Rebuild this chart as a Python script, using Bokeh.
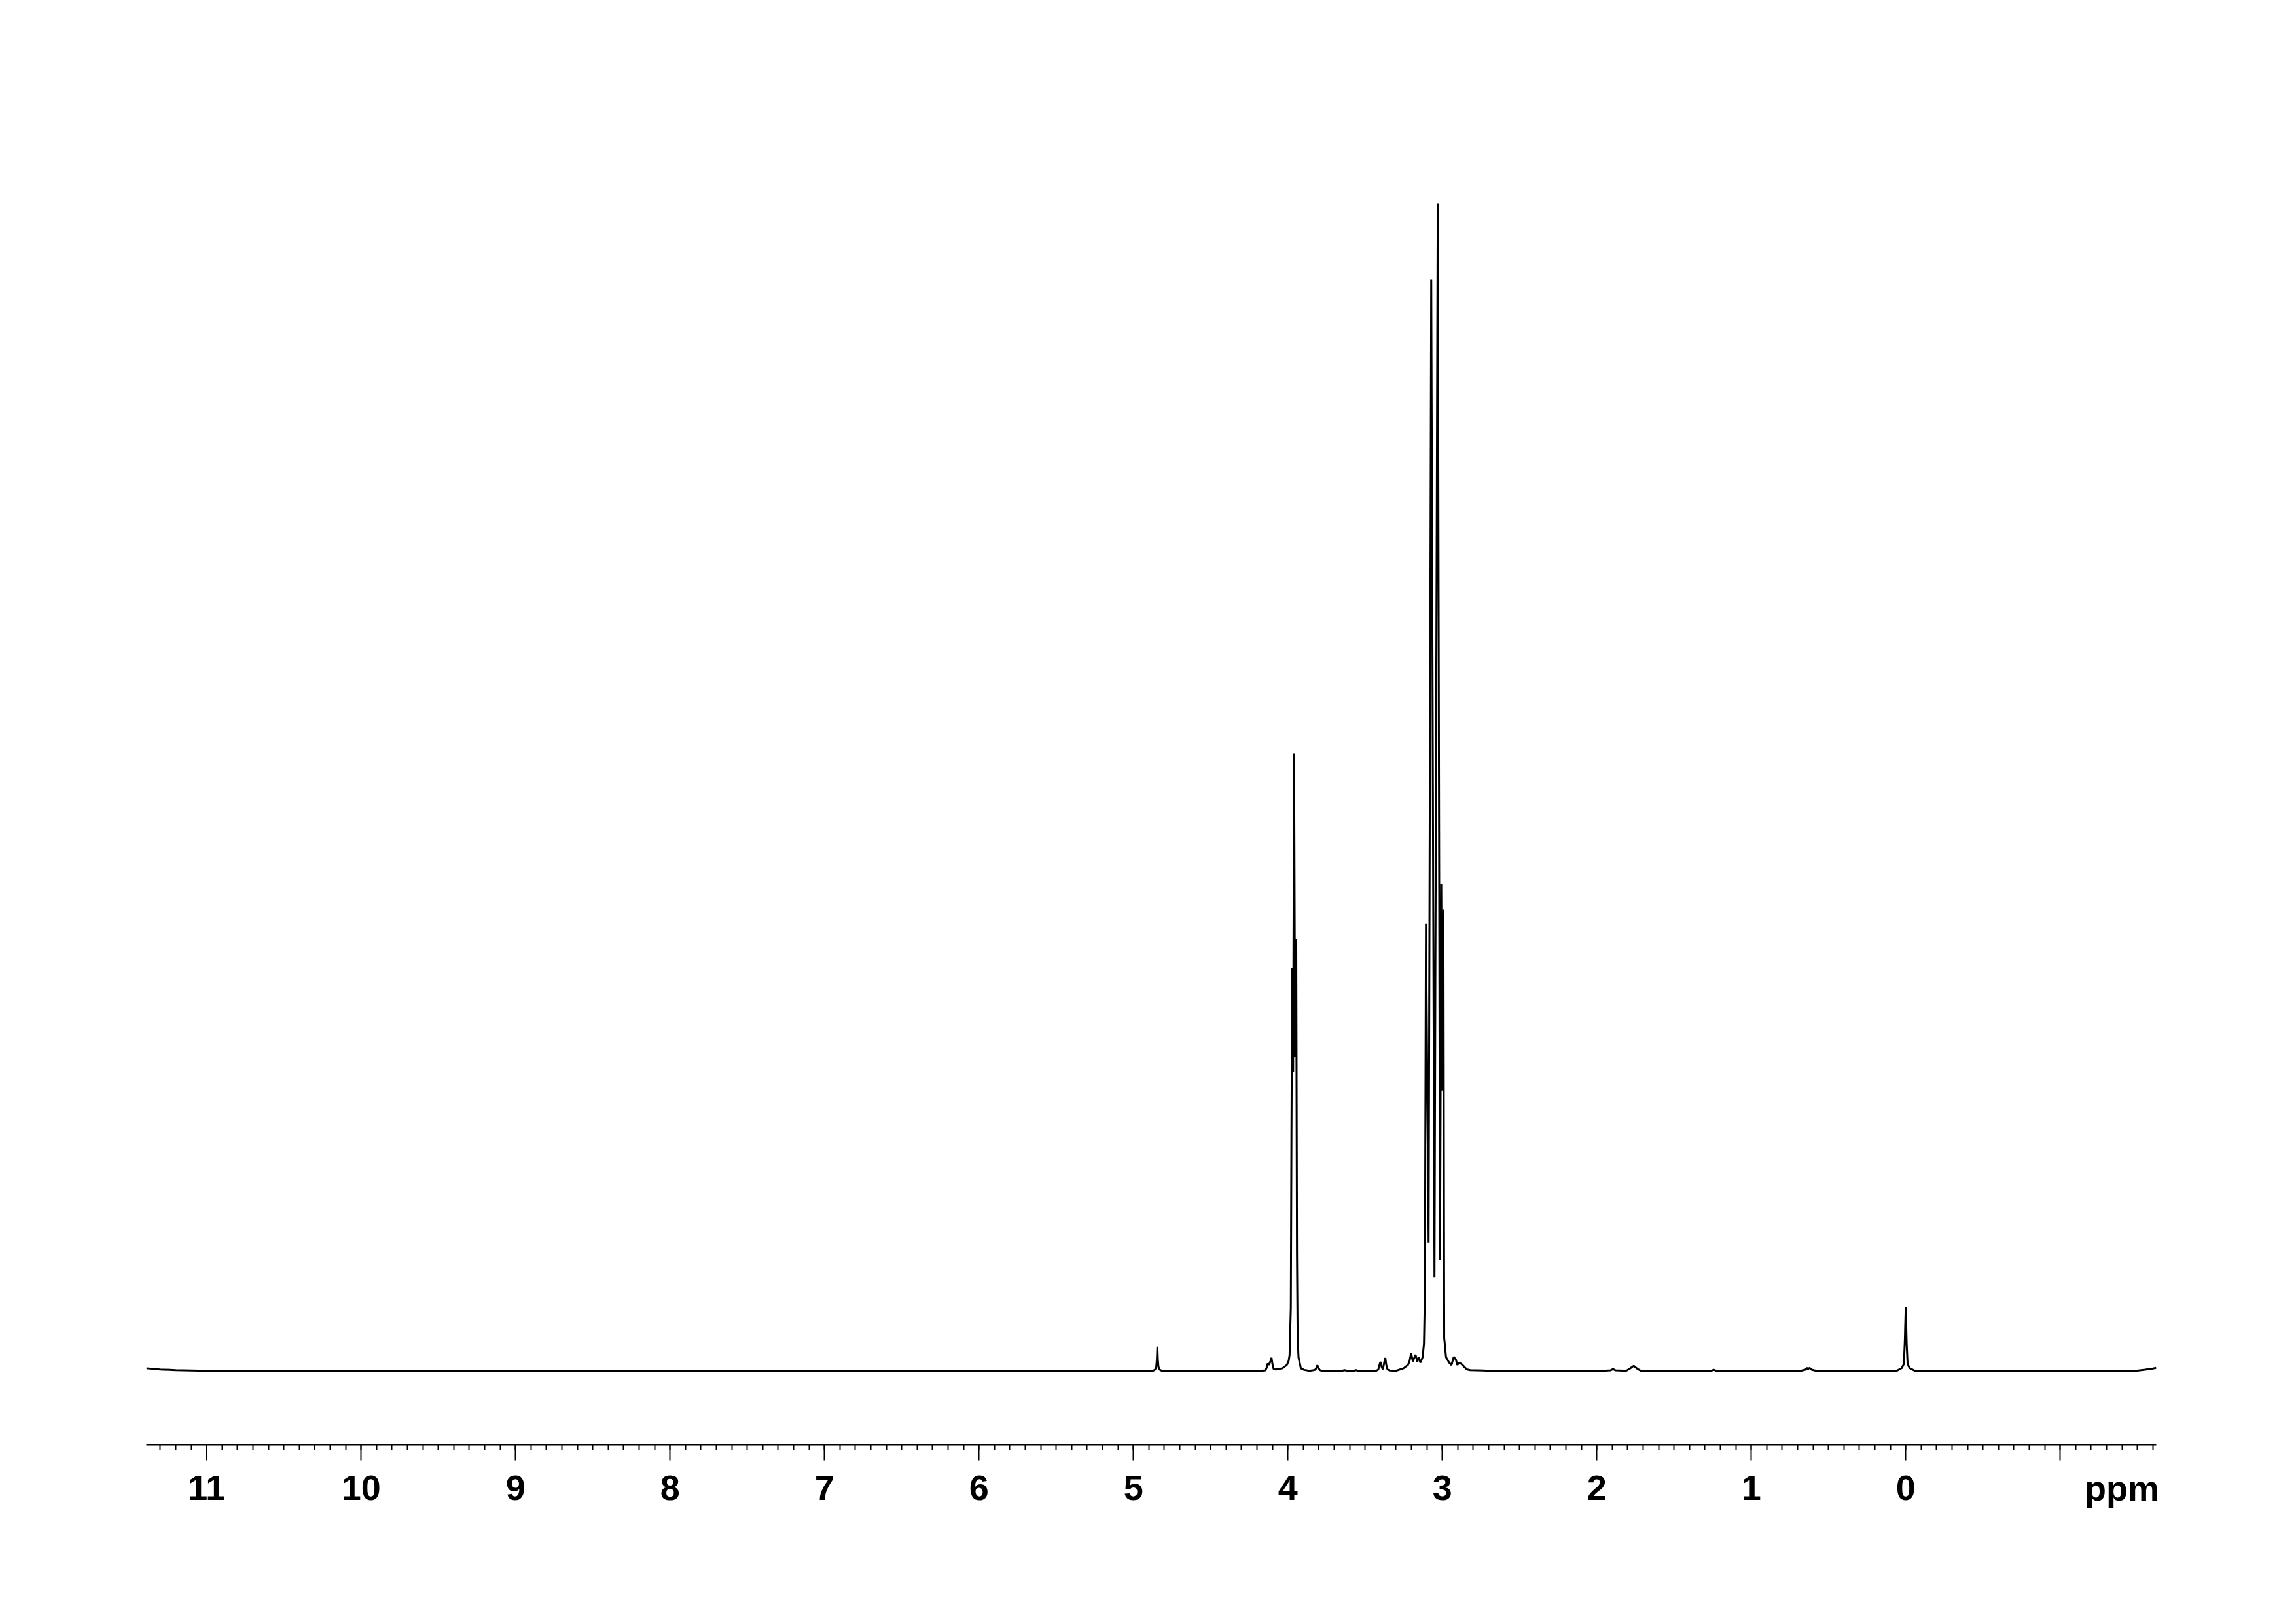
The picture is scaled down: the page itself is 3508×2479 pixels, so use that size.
from bokeh.plotting import figure
from bokeh.models import Range1d, FixedTicker, LinearAxis
from bokeh.embed import file_html
from bokeh.resources import INLINE

# 1H NMR spectrum: chemical shift (ppm) and intensity (% of tallest peak)
ppm = [
    11.39, 11.30, 11.20, 11.05, 10.80, 8.00, 6.00, 4.90,
    4.875, 4.860, 4.852, 4.848, 4.845, 4.842, 4.838, 4.830, 4.815,
    4.170, 4.145, 4.136, 4.130, 4.124, 4.113, 4.106, 4.099, 4.092, 4.078,
    4.035, 4.007, 3.995, 3.989, 3.981, 3.977, 3.972, 3.966, 3.960, 3.953,
    3.946, 3.941, 3.937, 3.931, 3.916, 3.894, 3.860,
    3.840, 3.822, 3.814, 3.809, 3.803, 3.795, 3.780,
    3.650, 3.633, 3.615, 3.575, 3.559, 3.545,
    3.430, 3.415, 3.405, 3.400, 3.393, 3.385, 3.375, 3.369, 3.363, 3.355, 3.340,
    3.301, 3.251, 3.237, 3.223, 3.213, 3.202, 3.191, 3.174, 3.162, 3.153,
    3.142, 3.128, 3.119, 3.113, 3.106, 3.089, 3.072, 3.051, 3.030, 3.015,
    3.007, 3.000, 2.993, 2.988, 2.976, 2.955, 2.941, 2.926, 2.912, 2.903,
    2.891, 2.877, 2.856, 2.842, 2.820, 2.736, 2.700,
    1.960, 1.910, 1.895, 1.880, 1.810, 1.785, 1.761, 1.740, 1.715,
    1.260, 1.243, 1.225,
    0.680, 0.650, 0.640, 0.633, 0.622, 0.610, 0.580,
    0.060, 0.025, 0.012, 0.006, 0.000, -0.006, -0.012, -0.025, -0.060,
    -1.490, -1.550, -1.600, -1.622,
]
intensity = [
    0.22, 0.12, 0.06, 0.02, 0.0, 0.0, 0.0, 0.0,
    0.0, 0.10, 0.35, 1.00, 2.07, 1.00, 0.35, 0.10, 0.0,
    0.0, 0.05, 0.30, 0.64, 0.50, 0.80, 1.12, 0.50, 0.15, 0.11,
    0.22, 0.50, 0.85, 1.35, 5.40, 20.0, 34.5, 25.6, 52.9, 26.9,
    37.0, 10.0, 3.00, 1.16, 0.22, 0.08, 0.0,
    0.04, 0.10, 0.30, 0.47, 0.30, 0.08, 0.0,
    0.0, 0.06, 0.0, 0.0, 0.06, 0.0,
    0.0, 0.10, 0.60, 0.77, 0.35, 0.13, 0.80, 1.10, 0.50, 0.12, 0.03,
    0.0, 0.22, 0.36, 0.50, 0.80, 1.50, 0.80, 1.38, 0.80, 1.16,
    0.70, 1.16, 2.30, 6.60, 38.3, 11.0, 93.5, 8.0, 100.0, 9.5,
    41.7, 24.0, 39.5, 2.80, 1.16, 0.69, 0.50, 1.20, 0.95, 0.50,
    0.69, 0.60, 0.32, 0.13, 0.06, 0.03, 0.0,
    0.0, 0.05, 0.15, 0.05, 0.0, 0.20, 0.43, 0.20, 0.0,
    0.0, 0.10, 0.0,
    0.0, 0.10, 0.25, 0.15, 0.25, 0.10, 0.0,
    0.0, 0.24, 0.60, 2.50, 5.44, 2.30, 0.60, 0.24, 0.0,
    0.0, 0.10, 0.20, 0.25,
]

major_ticks = [11, 10, 9, 8, 7, 6, 5, 4, 3, 2, 1, 0, -1]
tick_labels = ["11", "10", "9", "8", "7", "6", "5", "4", "3", "2", "1", "0", ""]
minor_ticks = [round(11.3 - 0.1 * i, 1) for i in range(130)]
unit_label = "ppm"
unit_pos = -1.40

X_START, X_END = 11.391, -1.622
Y_START, Y_END = -6.32, 103.42

FONT = "Liberation Sans"
FSIZE = "54px"

p = figure(width=3492, height=2440, output_backend="svg", toolbar_location=None,
           x_range=Range1d(X_START, X_END), y_range=Range1d(Y_START, Y_END),
           y_axis_location=None, min_border_left=223, min_border_right=198,
           min_border_top=249, min_border_bottom=234)
p.grid.visible = False
p.outline_line_color = None
p.background_fill_color = "white"
p.border_fill_color = "white"

p.line(ppm, intensity, line_color="black", line_width=3)

ax = p.xaxis[0]
ax.ticker = FixedTicker(ticks=major_ticks, minor_ticks=[t for t in minor_ticks if X_END < t < X_START])
ax.major_label_overrides = {t: lab for t, lab in zip(major_ticks, tick_labels)}
ax.axis_line_width = 2
ax.axis_line_color = "black"
ax.major_tick_line_width = 2
ax.minor_tick_line_width = 2
ax.major_tick_out = 24
ax.major_tick_in = 0
ax.minor_tick_out = 8
ax.minor_tick_in = 0
ax.major_label_text_font = FONT
ax.major_label_text_font_style = "bold"
ax.major_label_text_font_size = FSIZE
ax.major_label_text_color = "black"
ax.major_label_standoff = 23

# unit label "ppm" on the same row as the tick labels, via a second, line-less axis
unit_axis = LinearAxis(ticker=FixedTicker(ticks=[unit_pos], minor_ticks=[]),
                       major_label_overrides={unit_pos: unit_label})
unit_axis.axis_line_color = None
unit_axis.major_tick_line_color = None
unit_axis.minor_tick_line_color = None
unit_axis.major_tick_out = 0
unit_axis.major_tick_in = 0
unit_axis.minor_tick_out = 0
unit_axis.minor_tick_in = 0
unit_axis.major_label_text_font = FONT
unit_axis.major_label_text_font_style = "bold"
unit_axis.major_label_text_font_size = FSIZE
unit_axis.major_label_text_color = "black"
unit_axis.major_label_standoff = -51
p.add_layout(unit_axis, "below")

open("out.html", "w").write(file_html(p, INLINE))
